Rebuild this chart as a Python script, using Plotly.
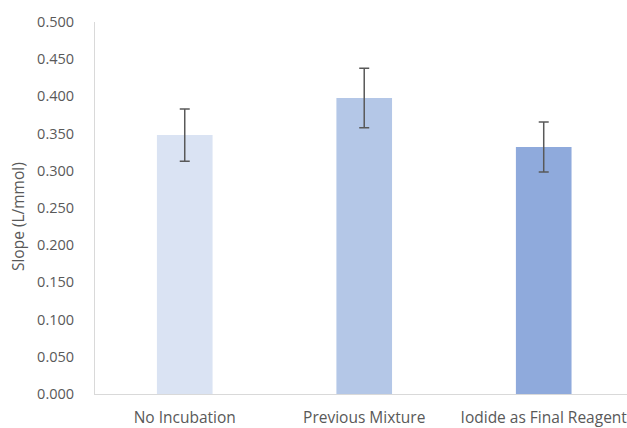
import plotly.graph_objects as go

categories = ["No Incubation", "Previous Mixture", "Iodide as Final Reagent"]
slopes = [0.348, 0.398, 0.332]
errors = [0.035, 0.040, 0.0335]
bar_colors = ["#dae3f3", "#b4c7e7", "#8faadc"]
y_ticks = [0.0, 0.05, 0.1, 0.15, 0.2, 0.25, 0.3, 0.35, 0.4, 0.45, 0.5]
y_title = "Slope (L/mmol)"

fig = go.Figure(
    go.Bar(
        x=categories,
        y=slopes,
        width=0.31,
        marker=dict(color=bar_colors, line=dict(width=0)),
        error_y=dict(type="data", array=errors, visible=True,
                     color="#595959", thickness=1.5, width=5),
    )
)

font_family = "Open Sans, Liberation Sans, Arial, sans-serif"
fig.update_layout(
    width=627, height=428,
    margin=dict(l=95, r=0, t=22, b=34),
    paper_bgcolor="white", plot_bgcolor="white",
    showlegend=False,
    font=dict(family=font_family, size=14, color="#595959"),
    xaxis=dict(
        range=[-0.5, 2.464],
        showline=True, linecolor="#d9d9d9", linewidth=1,
        showgrid=False, zeroline=False,
        ticks="", ticklabelstandoff=9,
        tickfont=dict(size=15.5, color="#595959"),
    ),
    yaxis=dict(
        range=[0, 0.5],
        tickvals=y_ticks,
        tickformat=".3f",
        showline=True, linecolor="#d9d9d9", linewidth=1,
        showgrid=False, zeroline=False,
        ticks="", ticklabelstandoff=17,
        tickfont=dict(size=14.5, color="#595959"),
    ),
    annotations=[dict(
        text=y_title, textangle=-90, showarrow=False,
        xref="paper", yref="paper", x=-0.145, y=0.478,
        xanchor="center", yanchor="middle",
        font=dict(size=15.5, color="#595959"),
    )],
)

fig.write_html("out.html")
